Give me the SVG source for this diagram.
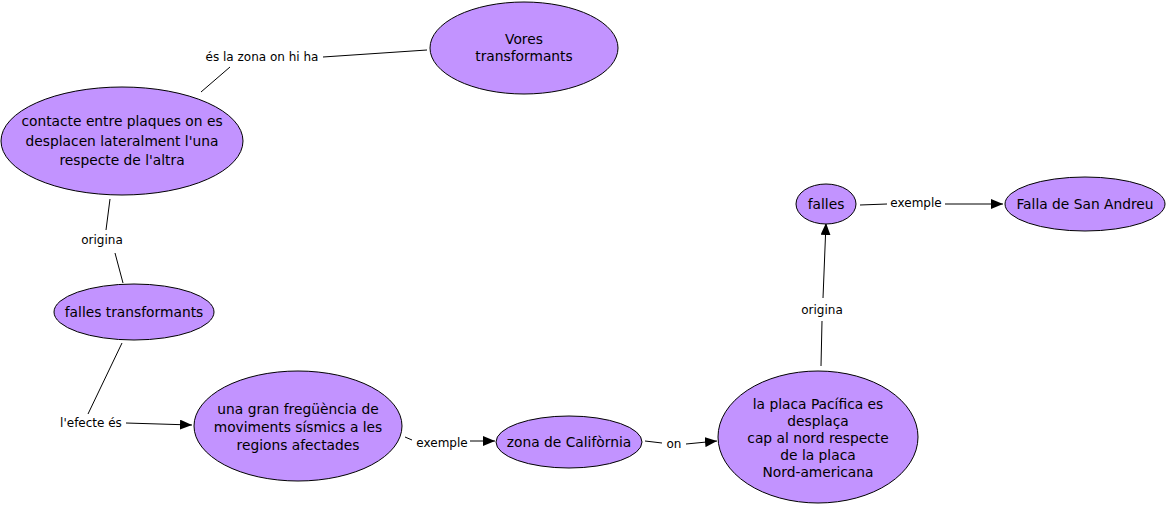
<svg xmlns="http://www.w3.org/2000/svg" width="1166" height="506" viewBox="0 0 1166 506">
<style>
.n{fill:#c293ff;stroke:#000;stroke-width:1}
.t{font-family:"DejaVu Sans",Verdana,sans-serif;font-size:13.8px;fill:#000;text-anchor:middle}
.l{font-family:"DejaVu Sans",Verdana,sans-serif;font-size:12px;fill:#000;text-anchor:middle}
.c{stroke:#000;stroke-width:1;fill:none}
</style>
<defs>
<marker id="a" viewBox="0 0 12 10" refX="12" refY="5" markerWidth="12" markerHeight="10" markerUnits="userSpaceOnUse" orient="auto">
<path d="M0,0 L12,5 L0,10 Z" fill="#000"/>
</marker>
</defs>
<rect width="1166" height="506" fill="#fff"/>
<g id="connectors">
<line class="c" x1="201" y1="92" x2="230" y2="67"/>
<line class="c" x1="323" y1="57" x2="427" y2="50"/>
<text class="l" x="262" y="61">és la zona on hi ha</text>
<line class="c" x1="110" y1="199" x2="106" y2="230"/>
<text class="l" x="102" y="244">origina</text>
<line class="c" x1="115" y1="253" x2="123" y2="283"/>
<line class="c" x1="122" y1="343" x2="88" y2="414"/>
<text class="l" x="91" y="427">l'efecte és</text>
<line class="c" x1="126" y1="423" x2="192" y2="425" marker-end="url(#a)"/>
<line class="c" x1="405" y1="437" x2="412" y2="440"/>
<text class="l" x="442" y="447">exemple</text>
<line class="c" x1="470" y1="441" x2="495" y2="441" marker-end="url(#a)"/>
<line class="c" x1="645" y1="441" x2="662" y2="443"/>
<text class="l" x="674" y="448">on</text>
<line class="c" x1="686" y1="444" x2="717" y2="441" marker-end="url(#a)"/>
<line class="c" x1="821" y1="366" x2="822" y2="321"/>
<text class="l" x="822" y="314">origina</text>
<line class="c" x1="823" y1="298" x2="826" y2="223" marker-end="url(#a)"/>
<line class="c" x1="860" y1="205" x2="887" y2="204"/>
<text class="l" x="916" y="207">exemple</text>
<line class="c" x1="945" y1="204" x2="1003" y2="204" marker-end="url(#a)"/>
</g>
<g id="node-vores">
<ellipse class="n" cx="524" cy="48" rx="94" ry="46"/>
<text class="t" x="524" y="44">Vores</text>
<text class="t" x="524" y="61">transformants</text>
</g>
<g id="node-contacte">
<ellipse class="n" cx="122" cy="141" rx="121" ry="54"/>
<text class="t" x="122" y="126">contacte entre plaques on es</text>
<text class="t" x="122" y="146">desplacen lateralment l'una</text>
<text class="t" x="122" y="165">respecte de l'altra</text>
</g>
<g id="node-falles-transformants">
<ellipse class="n" cx="134" cy="312" rx="80" ry="28"/>
<text class="t" x="134" y="317">falles transformants</text>
</g>
<g id="node-freq">
<ellipse class="n" cx="298" cy="426" rx="104" ry="55"/>
<text class="t" x="298" y="414">una gran fregüència de</text>
<text class="t" x="298" y="432">moviments sísmics a les</text>
<text class="t" x="298" y="450">regions afectades</text>
</g>
<g id="node-california">
<ellipse class="n" cx="569" cy="442" rx="73" ry="26"/>
<text class="t" x="569" y="447">zona de Califòrnia</text>
</g>
<g id="node-placa">
<ellipse class="n" cx="818" cy="437" rx="100" ry="66"/>
<text class="t" x="818" y="409">la placa Pacífica es</text>
<text class="t" x="818" y="426">desplaça</text>
<text class="t" x="818" y="443">cap al nord respecte</text>
<text class="t" x="818" y="460">de la placa</text>
<text class="t" x="818" y="477">Nord-americana</text>
</g>
<g id="node-falles">
<ellipse class="n" cx="826" cy="204" rx="30" ry="20"/>
<text class="t" x="826" y="209">falles</text>
</g>
<g id="node-sanandreu">
<ellipse class="n" cx="1085" cy="204" rx="80" ry="27"/>
<text class="t" x="1085" y="209">Falla de San Andreu</text>
</g>
</svg>
